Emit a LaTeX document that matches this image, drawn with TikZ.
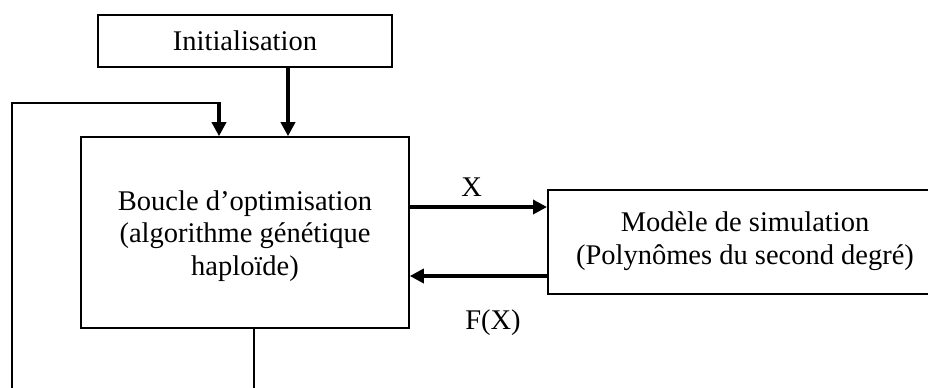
\documentclass[tikz,border=0pt]{standalone}
\usepackage{fontspec}
\setmainfont{Liberation Serif}
\usetikzlibrary{arrows.meta}
\begin{document}
\begin{tikzpicture}[x=1bp,y=-1bp,
  box/.style={draw,line width=1.6bp,inner sep=0pt,align=center,
    font=\fontsize{28.6}{32.5}\selectfont},
  lbl/.style={inner sep=0pt,font=\fontsize{28.6}{32.5}\selectfont},
  thickarr/.style={line width=3.4bp,-{Triangle[length=14bp,width=14bp]}},
  thinline/.style={line width=1.8bp}]
\useasboundingbox (0,0) rectangle (928,387);
\clip (0,0) rectangle (928,387);
\node[box,minimum width=294bp,minimum height=52bp] (init) at (245,41) {Initialisation};
\node[box,minimum width=328bp,minimum height=191bp] (boucle) at (245,232.5) {};
\node[lbl,align=center] (bouctext) at (245,236) {Boucle d’optimisation\\(algorithme génétique\\haploïde)};
\node[box,minimum width=420bp,minimum height=104bp,anchor=west] (model) at (547,242) {};
\node[lbl,align=center] (modeltext) at (745,241) {Modèle de simulation\\(Polynômes du second degré)};
\coordinate (bot) at (254,392);
\coordinate (leftbot) at (12,392);
\coordinate (corner) at (12,103);
\coordinate (corner2) at (219,103);
\draw[thickarr] (init.south -| 288,0) -- (boucle.north -| 288,0);
\draw[thinline] (leftbot) -- (corner) -- (corner2);
\draw[thickarr] ([yshift=0.9bp]corner2) -- (boucle.north -| corner2);
\draw[thickarr] (boucle.east |- 0,207) -- (model.west |- 0,207) node[lbl,pos=0.45,above=9bp] (x) {X};
\draw[thickarr] (model.west |- 0,276) -- (boucle.east |- 0,276);
\node[lbl] (fx) at (493,323) {F(X)};
\draw[thinline] (boucle.south -| bot) -- (bot);
\end{tikzpicture}
\end{document}
